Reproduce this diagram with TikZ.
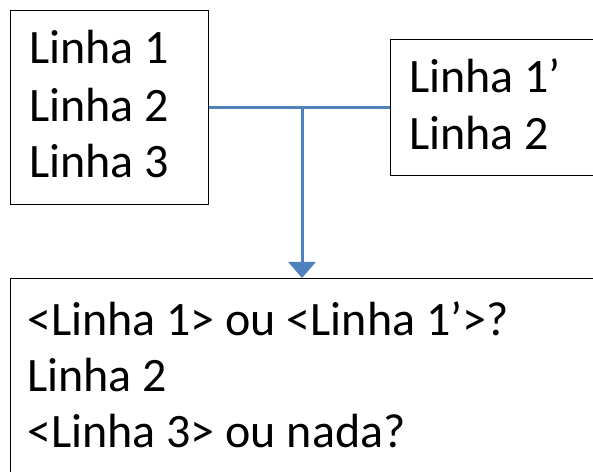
\documentclass[tikz,border=0pt]{standalone}
\usepackage{fontspec}
\setmainfont{Carlito}
\usetikzlibrary{arrows.meta}
\definecolor{connblue}{HTML}{4F81BD}
\tikzset{
  box/.style={draw=black, line width=1.3pt, inner sep=0pt, anchor=north west},
  txt/.style={anchor=base west, inner sep=0pt, font=\fontsize{48}{57}\selectfont},
  conn/.style={draw=connblue, line width=3pt},
}
\begin{document}
\begin{tikzpicture}[x=1pt,y=1pt]
\useasboundingbox (0,0) rectangle (593,471);
\clip (0,0) rectangle (593,471);
\fill[white] (0,0) rectangle (593,471);
% boxes
\node[box, minimum width=198pt, minimum height=194pt] (b1) at (10,461) {};
\node[box, minimum width=230pt, minimum height=136pt] (b2) at (390,432) {};
\node[box, minimum width=620pt, minimum height=220pt] (b3) at (10,193) {};
% texts
\node[txt] (t11) at (29,407) {Linha 1};
\node[txt] (t12) at (29,349) {Linha 2};
\node[txt] (t13) at (29,293) {Linha 3};
\node[txt] (t21) at (409,378) {Linha 1’};
\node[txt] (t22) at (409,321) {Linha 2};
\node[txt] (t31) at (27,136) {<Linha 1> ou <Linha 1’>?};
\node[txt] (t32) at (27,80) {Linha 2};
\node[txt] (t33) at (27,24) {<Linha 3> ou nada?};
% connectors
\draw[conn] (b1.east) -- (b2.west);
\coordinate (j) at (302,364);
\draw[conn, -{Triangle[width=27pt,length=16pt]}] (j) -- (b3.north -| j);
\end{tikzpicture}
\end{document}
